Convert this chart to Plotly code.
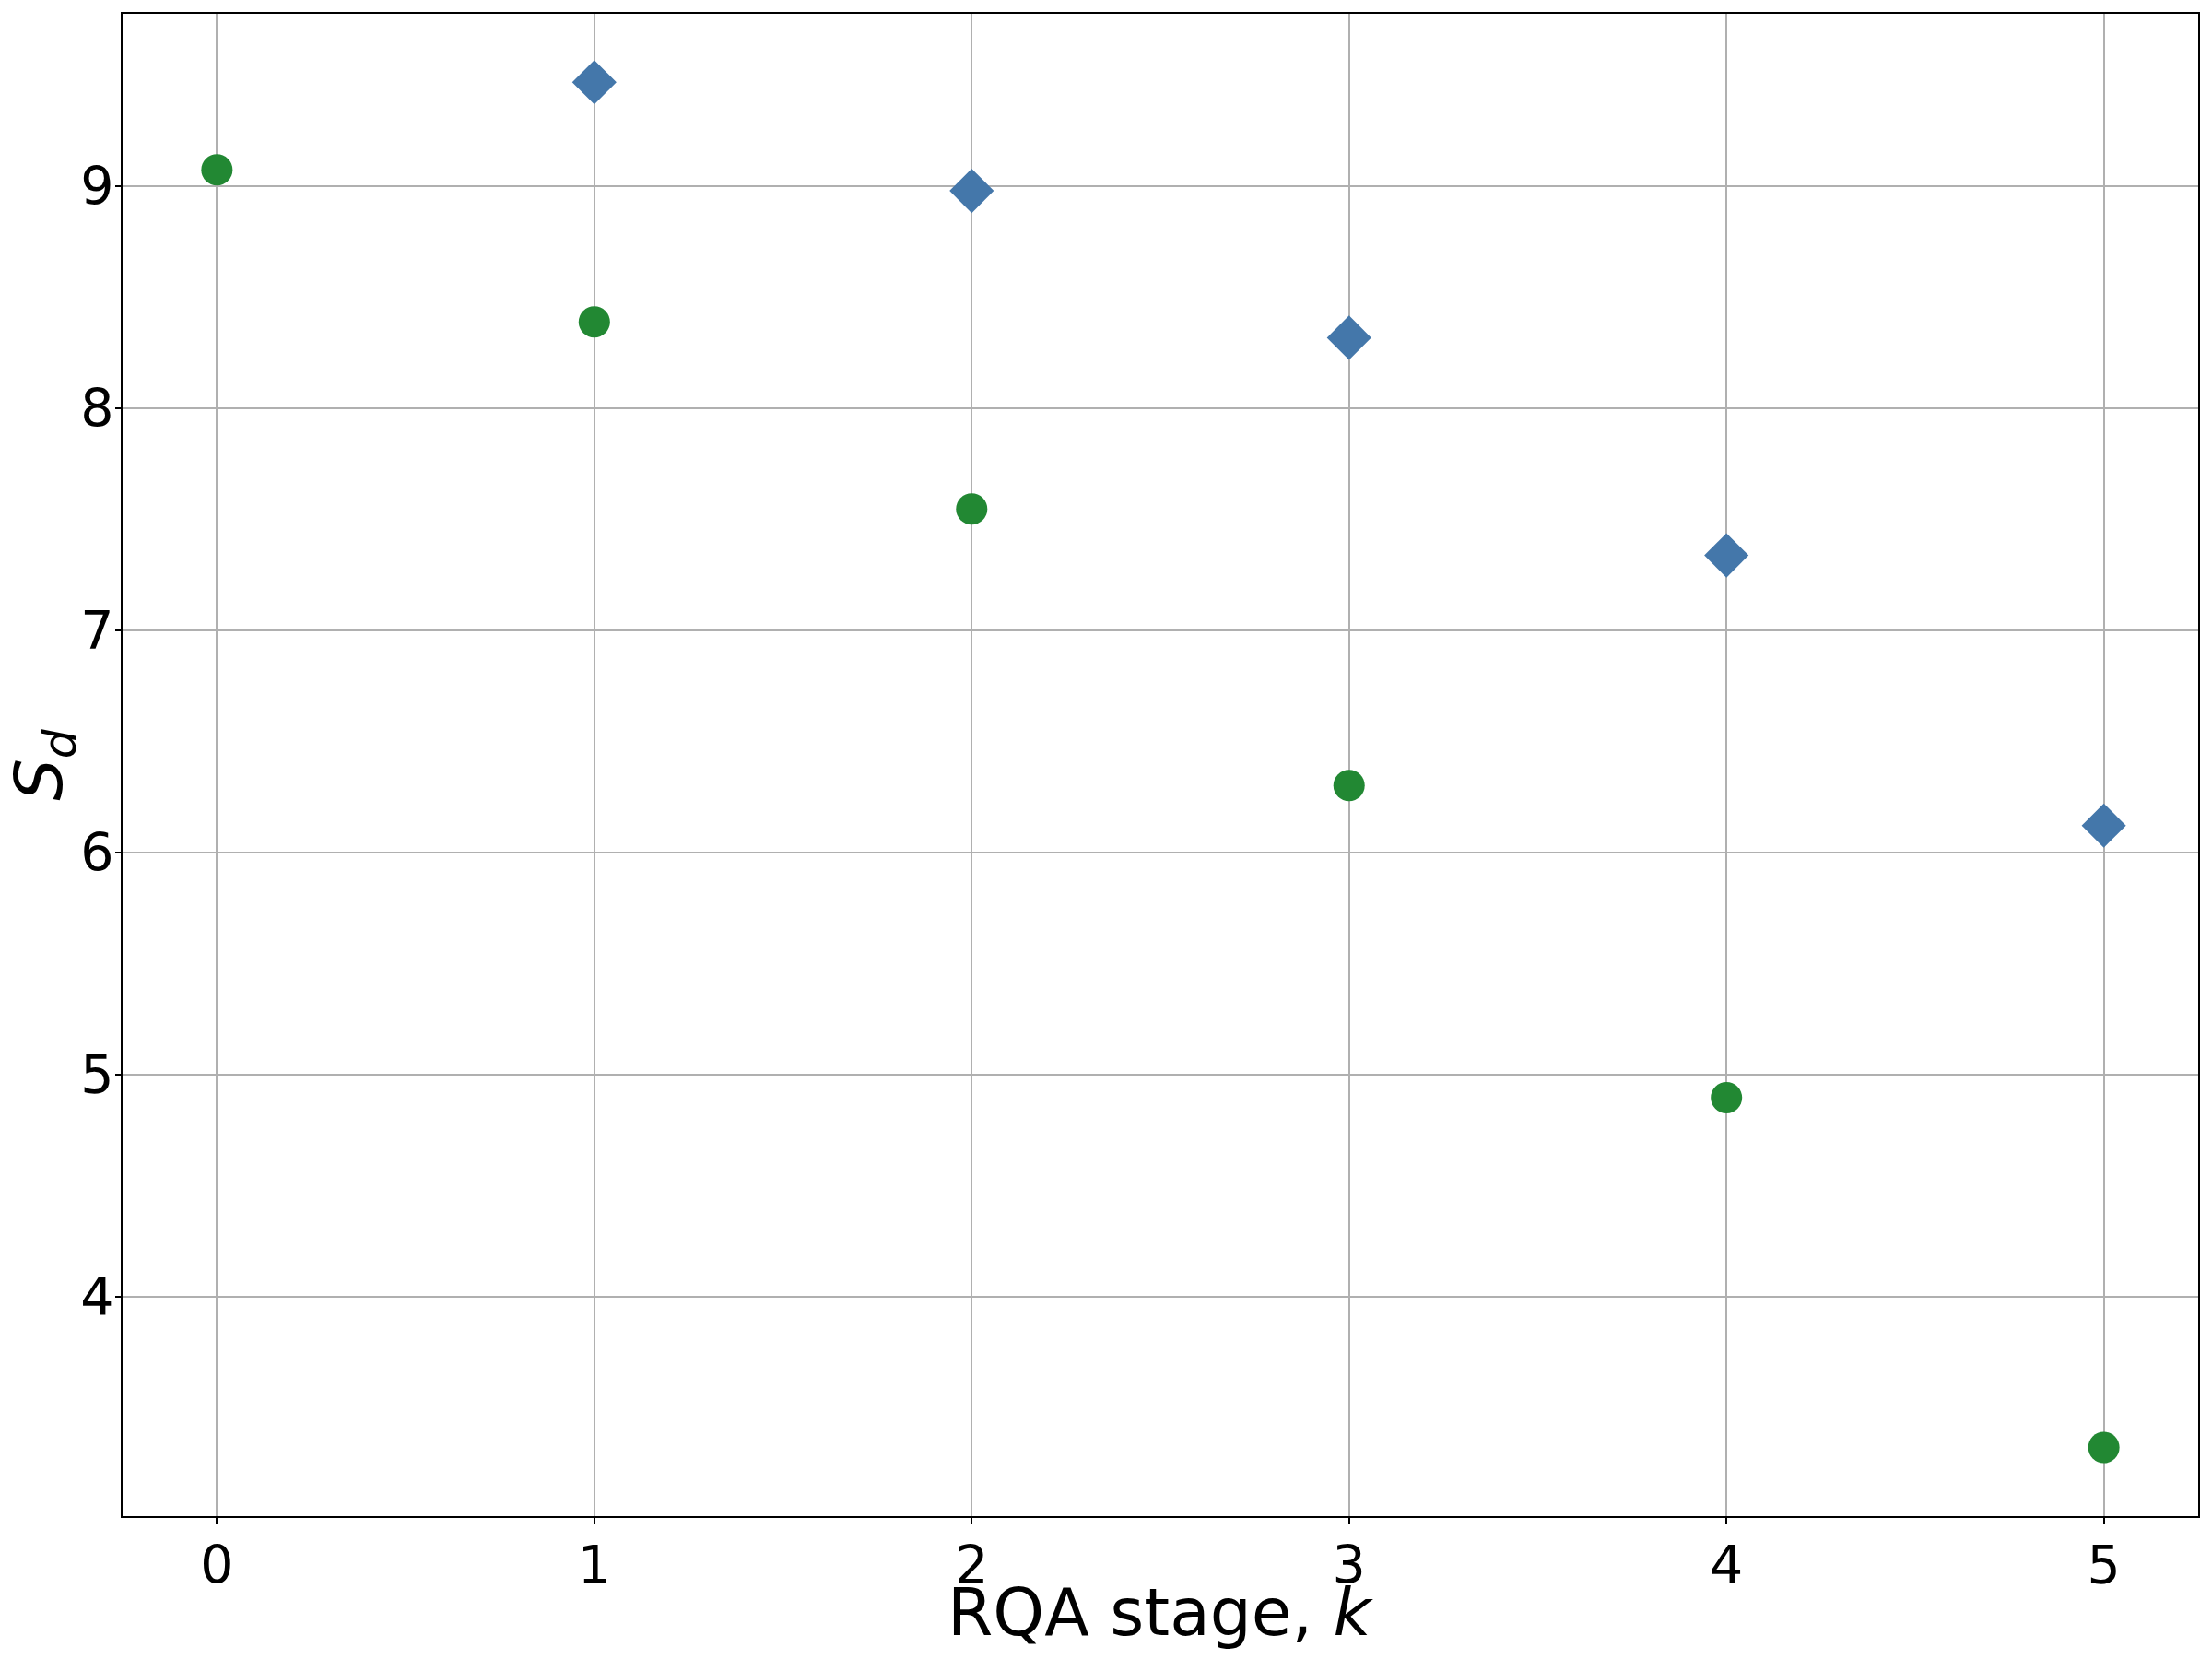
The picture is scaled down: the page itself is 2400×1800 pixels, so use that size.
import plotly.graph_objects as go

stages = [0, 1, 2, 3, 4, 5]
green_vals = [9.075, 8.390, 7.548, 6.303, 4.898, 3.323]
blue_stages = [1, 2, 3, 4, 5]
blue_vals = [9.469, 8.980, 8.319, 7.339, 6.123]
y_ticks = [4, 5, 6, 7, 8, 9]

fig = go.Figure()
fig.add_trace(go.Scatter(x=stages, y=green_vals, mode="markers",
                         marker=dict(symbol="circle", size=34, color="#228833", line=dict(width=0)),
                         showlegend=False))
fig.add_trace(go.Scatter(x=blue_stages, y=blue_vals, mode="markers",
                         marker=dict(symbol="diamond", size=37, color="#4477AA", line=dict(width=0)),
                         showlegend=False))

axis_common = dict(showgrid=True, gridcolor="#b0b0b0", gridwidth=1.6,
                   showline=True, linecolor="black", linewidth=2, mirror=True,
                   ticks="outside", ticklen=6, tickwidth=2, tickcolor="black",
                   zeroline=False, automargin=False,
                   tickfont=dict(size=57, color="black"))

fig.update_layout(
    width=2400, height=1800,
    paper_bgcolor="white", plot_bgcolor="white",
    font=dict(family="DejaVu Sans", color="black"),
    margin=dict(l=133, r=15, t=15, b=155),
    xaxis=dict(range=[-0.25, 5.25], tickvals=stages, ticktext=[str(s) for s in stages],
               ticklabelstandoff=-3,
               **axis_common),
    yaxis=dict(range=[3.014, 9.777], tickvals=y_ticks, ticktext=[str(t) for t in y_ticks],
               ticklabelstandoff=-10,
               title=dict(text="<i>S</i><sub><i>d</i></sub>", font=dict(size=72), standoff=0),
               **axis_common),
    annotations=[dict(text="RQA stage, <i>k</i>", xref="paper", yref="paper",
                      x=0.5, y=0, xanchor="center", yanchor="top", yshift=-61,
                      showarrow=False, font=dict(size=71, color="black"))],
)

fig.write_html("out.html", config={"displayModeBar": False},
               post_script="document.body.style.margin='0px';")
